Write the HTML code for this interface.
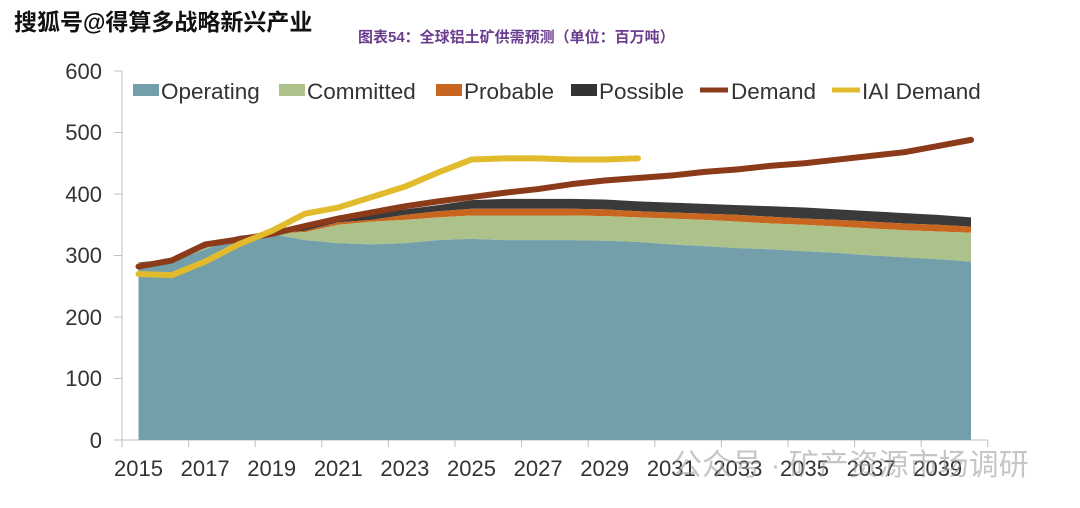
<!DOCTYPE html>
<html><head><meta charset="utf-8"><style>
body{margin:0;background:#fff;width:1080px;height:508px;overflow:hidden;font-family:"Liberation Sans","Noto Sans CJK SC",sans-serif}
</style></head><body>
<svg id="s" width="1080" height="508" xmlns="http://www.w3.org/2000/svg" style="position:absolute;left:0;top:0">
<text x="14" y="30" font-size="23" font-weight="bold" fill="#111" font-family="Liberation Sans,Noto Sans CJK SC,sans-serif">搜狐号@得算多战略新兴产业</text>
<text x="358" y="42" font-size="15" font-weight="bold" fill="#6a3d8f" font-family="Liberation Sans,Noto Sans CJK SC,sans-serif">图表54：全球铝土矿供需预测（单位：百万吨）</text>
<g id="grid" stroke="#bfbfbf" stroke-width="1"></g>
<g id="areas"></g>
<g id="lines" fill="none" stroke-linejoin="round" stroke-linecap="round"></g>
<g font-size="22" fill="#333" text-anchor="end" font-family="Liberation Sans,sans-serif">
<text x="102" y="79">600</text><text x="102" y="140">500</text><text x="102" y="202">400</text><text x="102" y="263">300</text><text x="102" y="325">200</text><text x="102" y="386">100</text><text x="102" y="448">0</text>
</g>
<g id="xl" font-size="22" fill="#333" text-anchor="middle" font-family="Liberation Sans,sans-serif"></g>
<g font-size="22.5" fill="#333" font-family="Liberation Sans,sans-serif">
<rect x="133" y="84" width="26" height="12" fill="#739faa"/><text x="161" y="99">Operating</text>
<rect x="279" y="84" width="26" height="12" fill="#adc28a"/><text x="307" y="99">Committed</text>
<rect x="436" y="84" width="26" height="12" fill="#c8651e"/><text x="464" y="99">Probable</text>
<rect x="571" y="84" width="26" height="12" fill="#333"/><text x="599" y="99">Possible</text>
<line x1="700" y1="90" x2="728" y2="90" stroke="#8b3a1a" stroke-width="5"/><text x="731" y="99">Demand</text>
<line x1="832" y1="90" x2="860" y2="90" stroke="#e2bb2c" stroke-width="5"/><text x="862" y="99">IAI Demand</text>
</g>
<text x="672" y="475" font-size="30" fill="#999" opacity="0.55" font-family="Liberation Sans,Noto Sans CJK SC,sans-serif">公众号 · 矿产资源市场调研</text>
</svg>
<script>
const N="http://www.w3.org/2000/svg";
const X=i=>138.5+i*33.3, Y=v=>440-v*0.615;
const op=[285,290,310,330,335,325,320,318,320,325,327,325,325,325,324,322,318,315,312,310,307,304,300,297,294,290];
const cm=[288,292,312,331,336,338,350,355,358,362,365,365,365,365,364,362,360,358,355,352,350,347,344,341,339,337];
const pr=[288,292,312,331,336,340,354,358,366,372,376,376,376,376,375,372,370,368,366,363,360,358,355,352,350,347];
const po=[289,293,313,332,337,345,360,367,375,382,390,392,392,392,391,388,386,384,382,380,378,375,372,369,366,362];
const dm=[282,292,318,326,335,348,360,370,380,388,395,402,408,416,422,426,430,436,440,446,450,456,462,468,478,488];
const iai=[270,268,290,318,340,368,378,395,412,435,456,458,458,456,456,458];
function area(top,bot,c){let d="M"+top.map((v,i)=>X(i)+","+Y(v)).join("L");
for(let i=bot.length-1;i>=0;i--)d+="L"+X(i)+","+Y(bot[i]);
const p=document.createElementNS(N,"path");p.setAttribute("d",d+"Z");p.setAttribute("fill",c);document.getElementById("areas").appendChild(p);}
const z=op.map(()=>0);
area(po,pr,"#3a3a3a");area(pr,cm,"#c8651e");area(cm,op,"#adc28a");area(op,z,"#739faa");
function line(a,c){const p=document.createElementNS(N,"polyline");p.setAttribute("points",a.map((v,i)=>X(i)+","+Y(v)).join(" "));p.setAttribute("stroke",c);p.setAttribute("stroke-width","6");document.getElementById("lines").appendChild(p);}
line(dm,"#8b3a1a");line(iai,"#e2bb2c");
const g=document.getElementById("grid");
function ln(x1,y1,x2,y2){const l=document.createElementNS(N,"line");l.setAttribute("x1",x1);l.setAttribute("y1",y1);l.setAttribute("x2",x2);l.setAttribute("y2",y2);g.appendChild(l);}
ln(122,71,122,440);for(let v=0;v<=600;v+=100){ln(114,Y(v),122,Y(v));}
ln(122,440,988,440);
for(let k=0;k<=13;k++){ln(122+k*66.6,440,122+k*66.6,447);}
const xl=document.getElementById("xl");
for(let y=2015;y<=2039;y+=2){const t=document.createElementNS(N,"text");t.setAttribute("x",X(y-2015));t.setAttribute("y",476);t.textContent=y;xl.appendChild(t);}
</script>
</body></html>
